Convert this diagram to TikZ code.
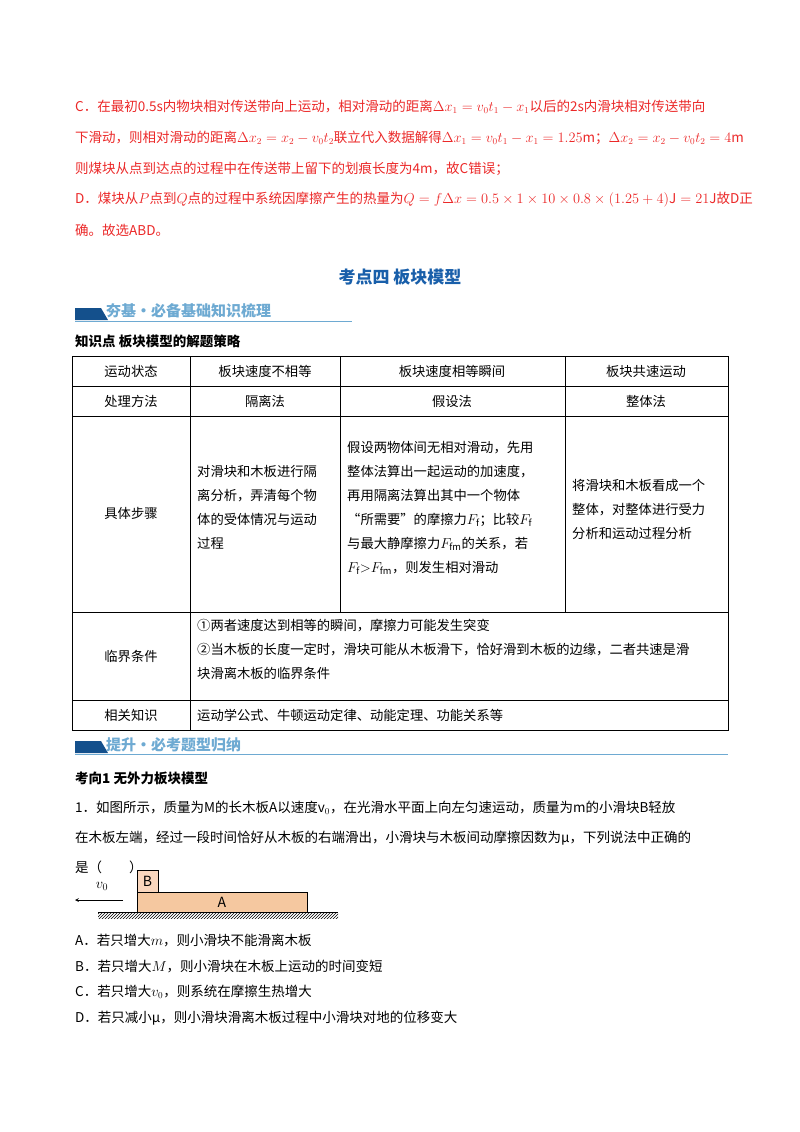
\documentclass[tikz,border=0pt]{standalone}
\usepackage{fontspec}
\setmainfont{Noto Sans CJK SC}
\usetikzlibrary{patterns}
\definecolor{redt}{RGB}{235,40,40}
\definecolor{bluet}{RGB}{25,95,170}
\definecolor{bandc}{RGB}{20,80,140}
\definecolor{lbl}{RGB}{110,170,210}
\definecolor{orangeA}{RGB}{245,200,160}
\definecolor{orangeB}{RGB}{250,215,190}
\tikzset{x=1pt,y=-1pt,
 tl/.style={anchor=west,inner sep=0pt,font=\fontsize{13.5}{16}\selectfont},
 rl/.style={tl,text=redt},
 cell/.style={inner sep=0pt,font=\fontsize{13.3}{24}\selectfont,align=left},
 band/.style={fill=bandc},
 bandtext/.style={anchor=west,inner sep=0pt,text=lbl,font=\fontsize{15}{16}\selectfont\bfseries}}
\begin{document}
\begin{tikzpicture}
\useasboundingbox (0,0) rectangle (800,1132);
% red block
\node[rl] (l1) at (75,107) {C．在最初0.5s内物块相对传送带向上运动，相对滑动的距离$\Delta x_1=v_0t_1-x_1$以后的2s内滑块相对传送带向};
\node[rl] (l2) at (75,138) {下滑动，则相对滑动的距离$\Delta x_2=x_2-v_0t_2$联立代入数据解得$\Delta x_1=v_0t_1-x_1=1.25\mathrm{m}$；$\Delta x_2=x_2-v_0t_2=4\mathrm{m}$};
\node[rl] (l3) at (75,169) {则煤块从点到达点的过程中在传送带上留下的划痕长度为4m，故C错误；};
\node[rl] (l4) at (75,200) {D．煤块从$P$点到$Q$点的过程中系统因摩擦产生的热量为$Q=f\Delta x=0.5\times1\times10\times0.8\times(1.25+4)\mathrm{J}=21\mathrm{J}$故D正};
\node[rl] (l5) at (75,230) {确。故选ABD。};
% title
\node[inner sep=0pt,text=bluet,font=\fontsize{17}{20}\selectfont\bfseries] (title) at (400,277) {考点四\ 板块模型};
% banner 1
\fill[band] (75,308) -- (101,308) -- (108,320) -- (75,320) -- cycle;
\draw[lbl,line width=0.6pt] (75,321) -- (352,321);
\node[bandtext] (b1) at (106,311) {夯基·必备基础知识梳理};
\node[tl,font=\fontsize{13.5}{16}\selectfont\bfseries] (k1) at (75,341) {知识点\ 板块模型的解题策略};
% table
\draw[line width=0.6pt] (72,356) rectangle (728,730);
\foreach \yy in {386,416,612,700} \draw[line width=0.6pt] (72,\yy) -- (728,\yy);
\draw[line width=0.6pt] (190,356) -- (190,612);
\draw[line width=0.6pt] (340,356) -- (340,612);
\draw[line width=0.6pt] (565,356) -- (565,612);
\draw[line width=0.6pt] (190,612) -- (190,730);
\node[cell] (c11) at (131,371) {运动状态};
\node[cell] (c12) at (265,371) {板块速度不相等};
\node[cell] (c13) at (452,371) {板块速度相等瞬间};
\node[cell] (c14) at (646,371) {板块共速运动};
\node[cell] (c21) at (131,401) {处理方法};
\node[cell] (c22) at (265,401) {隔离法};
\node[cell] (c23) at (452,401) {假设法};
\node[cell] (c24) at (646,401) {整体法};
\node[cell] (c31) at (131,513) {具体步骤};
\node[cell,anchor=north west] (c32) at (197,465) {对滑块和木板进行隔\\离分析，弄清每个物\\体的受体情况与运动\\过程};
\node[cell,anchor=north west] (c33) at (347,441) {假设两物体间无相对滑动，先用\\整体法算出一起运动的加速度，\\再用隔离法算出其中一个物体\\“所需要”的摩擦力$F_{\mathrm f}$；比较$F_{\mathrm f}$\\与最大静摩擦力$F_{\mathrm{fm}}$的关系，若\\$F_{\mathrm f}{>}F_{\mathrm{fm}}$，则发生相对滑动};
\node[cell,anchor=north west] (c34) at (572,479) {将滑块和木板看成一个\\整体，对整体进行受力\\分析和运动过程分析};
\node[cell] (c41) at (131,656) {临界条件};
\node[cell,anchor=north west] (c42) at (197,619) {①两者速度达到相等的瞬间，摩擦力可能发生突变\\②当木板的长度一定时，滑块可能从木板滑下，恰好滑到木板的边缘，二者共速是滑\\块滑离木板的临界条件};
\node[cell] (c51) at (131,715) {相关知识};
\node[cell,anchor=west] (c52) at (197,715) {运动学公式、牛顿运动定律、动能定理、功能关系等};
% banner 2
\fill[band] (75,741) -- (101,741) -- (108,753) -- (75,753) -- cycle;
\draw[lbl,line width=0.6pt] (75,754) -- (728,754);
\node[bandtext] (b2) at (106,745) {提升·必考题型归纳};
\node[tl,font=\fontsize{13.5}{16}\selectfont\bfseries] (k2) at (75,778) {考向1\ 无外力板块模型};
\node[tl] (q1) at (75,808) {1．如图所示，质量为M的长木板A以速度v$_0$，在光滑水平面上向左匀速运动，质量为m的小滑块B轻放};
\node[tl] (q2) at (75,838) {在木板左端，经过一段时间恰好从木板的右端滑出，小滑块与木板间动摩擦因数为μ，下列说法中正确的};
\node[tl] (q3) at (75,867) {是（\qquad）};
% figure
\fill[pattern=north east lines] (98,912) rectangle (338,918);
\draw[line width=0.8pt] (98,912) -- (338,912);
\draw[fill=orangeA,line width=0.6pt] (137,892) rectangle (307,912);
\draw[fill=orangeB,line width=0.6pt] (137,870) rectangle (158,892);
\node[font=\fontsize{14}{14}\selectfont] (A) at (222,902) {A};
\node[font=\fontsize{14}{14}\selectfont] (B) at (147.5,881) {B};
\coordinate (vs) at (123,900);
\coordinate (ve) at (75,900);
\draw[-stealth,line width=0.7pt] (vs) -- (ve);
\node[font=\fontsize{14}{14}\selectfont] (v0) at (102,886) {$v_0$};
% options
\node[tl] (oA) at (75,940) {A．若只增大$m$，则小滑块不能滑离木板};
\node[tl] (oB) at (75,966) {B．若只增大$M$，则小滑块在木板上运动的时间变短};
\node[tl] (oC) at (75,992) {C．若只增大$v_0$，则系统在摩擦生热增大};
\node[tl] (oD) at (75,1018) {D．若只减小μ，则小滑块滑离木板过程中小滑块对地的位移变大};
\end{tikzpicture}
\end{document}
